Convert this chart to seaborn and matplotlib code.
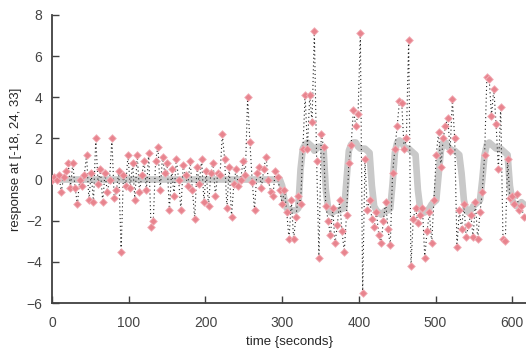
import numpy as np
import pandas as pd
import matplotlib
matplotlib.use("Agg")
import matplotlib.pyplot as plt
import seaborn as sns

# sampling grid (TR = 3 s)
time = np.arange(0, 618, 3)

response = [
    0.0, 0.1, 0.0, 0.2, -0.6, 0.1, 0.4, 0.8, -0.4, 0.8,
    -0.4, -1.2, 0.0, -0.3, 0.2, 1.2, -1.0, 0.3, -1.1, 2.0,
    -0.2, 0.5, -1.1, 0.3, -0.6, 0.0, 2.0, -0.9, -0.5, 0.4,
    -3.5, 0.2, -0.3, 1.2, -0.4, 0.8, -1.0, 1.2, -0.6, 0.2,
    0.9, -0.5, 1.3, -2.3, -2.0, 0.9, 1.6, -0.5, 1.1, 0.3,
    0.8, -1.5, 0.5, -0.8, 1.0, 0.0, -1.5, 0.7, 0.2, -0.3,
    0.9, -0.5, -1.9, 0.6, -0.2, 1.0, -1.1, 0.4, -1.3, 0.3,
    0.8, -0.8, 0.3, 0.2, 2.2, 1.0, -1.4, 0.6, -1.8, -0.2,
    0.5, -0.3, 0.0, 0.9, 0.2, 4.0, 1.8, -0.1, -1.5, 0.3,
    0.6, -0.4, 0.5, 1.1, 0.0, -0.6, -0.8, 0.4, 0.1, -0.5,
    -1.2, -0.5, -1.6, -2.9, -1.0, -2.9, -1.8, -0.8, -1.2, 1.5,
    4.1, 1.5, 4.1, 2.8, 7.2, 0.9, -3.8, 2.2, 1.6, -1.3,
    -2.0, -2.7, -1.4, -3.1, -2.2, -1.0, -2.5, -3.5, -1.7, 0.8,
    1.7, 3.4, 2.6, 3.2, 7.1, -5.5, 1.0, -1.5, -1.0, -1.9,
    -2.3, -1.6, -2.7, -3.1, -2.0, -1.1, -2.4, -3.2, 0.3, 1.5,
    2.6, 3.8, 3.7, 1.5, 2.0, 6.8, -4.2, -1.9, -1.4, -2.1,
    -1.7, -1.4, -3.8, -2.5, -1.6, -3.1, -1.0, 1.2, 2.3, 0.6,
    2.0, 2.6, 3.0, 1.4, 3.9, 2.0, -3.3, -1.5, -2.4, -1.2,
    -2.8, -2.2, -1.7, -2.8, -1.1, -2.9, -1.6, -0.6, 1.2, 5.0,
    4.9, 3.1, 4.4, 2.7, 0.5, 3.5, -2.9, -3.0, 1.0, -0.9,
    -0.8, -1.2, -0.7, -1.5, -1.3, -1.8,
]

model = [0.0] * 100 + [
    -0.3, -1.0, -1.4, -1.5, -1.5, -1.5, -1.5, -1.4, 0.5, 1.5,
    1.7, 1.8, 1.7, 1.6, 1.4, 1.5, 1.6, 1.6, 1.5, -0.5,
    -1.4, -1.6, -1.6, -1.5, -1.5, -1.5, -1.4, -1.4, 0.0, 1.4,
    1.7, 1.8, 1.8, 1.6, 1.5, 1.5, 1.5, 1.4, 1.3, -0.3,
    -1.3, -1.5, -1.6, -1.7, -1.6, -1.5, -1.5, -1.4, -0.2, 1.3,
    1.8, 1.9, 1.8, 1.6, 1.5, 1.5, 1.4, 1.3, 1.2, -0.5,
    -1.4, -1.6, -1.6, -1.5, -1.4, -1.2, -1.1, -1.0, 0.2, 1.4,
    1.8, 1.8, 1.6, 1.5, 1.4, 1.4, 1.3, 1.2, 0.3, -1.0,
    -1.5, -1.6, -1.5, -1.3, -1.2, -1.1, -1.0, 0.0, 1.2, 1.7,
    1.8, 1.7, 1.6, 1.5, 1.5, 1.5, 1.4, 1.3, 1.2, -0.3,
    -1.0, -1.2, -1.3, -1.2, -1.1, -1.2,
]

df = pd.DataFrame({"time": time, "response": response, "model": model})

sns.set_style("white")
plt.rcParams['font.family'] = ['Liberation Sans', 'DejaVu Sans']

fig = plt.figure(figsize=(5.26, 3.54), dpi=100)
ax = fig.add_axes([0.099, 0.144, 0.901, 0.814])

sns.lineplot(data=df, x="time", y="model", color="#c9c9c9", lw=4.8, ax=ax)
sns.lineplot(data=df, x="time", y="response", color="#222222", lw=0.8,
             linestyle=(0, (1, 2.5)), ax=ax)
sns.scatterplot(data=df, x="time", y="response", marker="D", s=15,
                color="#e8848e", edgecolor="#f2b0b8", linewidth=0.6,
                zorder=5, ax=ax)

ax.set_xlim(0, 618)
ax.set_ylim(-6, 8)
ax.set_xticks([0, 100, 200, 300, 400, 500, 600])
ax.set_yticks([-6, -4, -2, 0, 2, 4, 6, 8])
ax.set_xlabel("time {seconds}", fontsize=9.5, labelpad=5)
ax.set_ylabel("response at [-18, 24, 33]", fontsize=9.5, labelpad=3)

for side in ["top", "right"]:
    ax.spines[side].set_visible(False)
for side in ["left", "bottom"]:
    ax.spines[side].set_color("#404040")
    ax.spines[side].set_linewidth(1.3)
ax.tick_params(axis="x", pad=9)
ax.tick_params(axis="y", pad=7)
ax.tick_params(direction="in", length=5, width=1, colors="#404040",
               labelcolor="#444444", labelsize=10,
               bottom=True, left=True)

plt.savefig("out.png", dpi=100)
